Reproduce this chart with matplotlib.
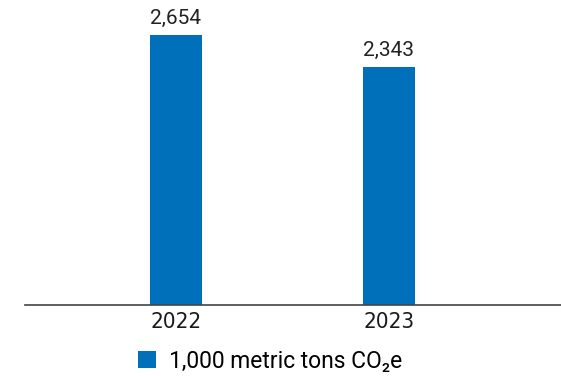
import matplotlib
matplotlib.use("Agg")
import matplotlib.pyplot as plt
from matplotlib.patches import Patch

years = ["2022", "2023"]
values = [2654, 2343]
labels = ["2,654", "2,343"]
series_name = "1,000 metric tons CO\u2082e"

blue = "#0070BA"

fig = plt.figure(figsize=(5.61, 3.76), dpi=100)
ax = fig.add_axes([25 / 561, 71 / 376, 536 / 561, 305 / 376])

x = list(range(len(years)))
ax.bar(x, values, width=0.244, color=blue)
for xi, v, lab in zip(x, values, labels):
    ax.text(xi, v + 70, lab, ha="center", va="bottom", fontsize=15,
            family=["Roboto", "DejaVu Sans"], color="#222222")

ax.set_xlim(-0.709, 1.808)
ax.set_ylim(0, 3000)
ax.set_xticks(x)
ax.set_xticklabels(years, fontsize=16, family="DejaVu Sans", stretch="condensed", color="#1a1a1a")
ax.tick_params(axis="x", length=0, pad=5)
ax.set_yticks([])
for s in ["top", "right", "left"]:
    ax.spines[s].set_visible(False)
ax.spines["bottom"].set_color("#444444")
ax.spines["bottom"].set_linewidth(1.2)

handle = Patch(facecolor=blue)
fig.legend([handle], [series_name], loc="center", bbox_to_anchor=(270 / 561, 1 - 361 / 376),
           frameon=False, handlelength=0.8, handleheight=0.8, handletextpad=0.55,
           prop={"family": ["Roboto", "DejaVu Sans"], "size": 16.5})

fig.savefig("out.png", dpi=100)
